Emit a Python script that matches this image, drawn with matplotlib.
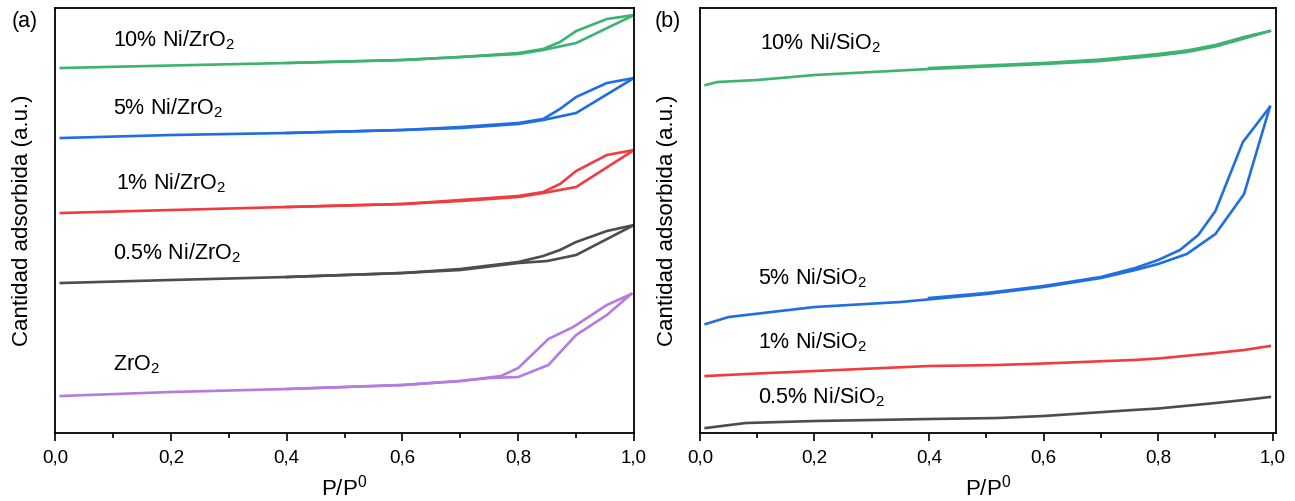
import numpy as np
import matplotlib
matplotlib.use('Agg')
import matplotlib.pyplot as plt
from matplotlib.ticker import MultipleLocator

plt.rcParams['font.family'] = ['Liberation Sans', 'DejaVu Sans']
plt.rcParams['mathtext.default'] = 'regular'

# ---- panel (a): Ni/ZrO2 isotherms (y in arbitrary units) ----
a_ads_p = [0.01, 0.2, 0.4, 0.6, 0.7, 0.8, 0.843, 0.9, 1.0]
a_des_p = [1.0, 0.953, 0.9, 0.872, 0.843, 0.8, 0.7, 0.6, 0.4]

zr10_ads = [365, 367.5, 370, 373, 376, 379, 383, 390, 418]
zr10_des = [418, 414, 402, 391, 384, 380, 376, 373, 370]
zr5_ads = [295, 298, 300, 303, 305, 309, 313, 320, 355]
zr5_des = [355, 350, 336, 324, 314, 310, 306, 303, 300]
zr1_ads = [220, 223, 226, 229, 232, 236, 240, 246, 283]
zr1_des = [283, 278, 262, 249, 241, 237, 233, 229, 226]
zr05_p = [0.01, 0.2, 0.4, 0.6, 0.7, 0.8, 0.85, 0.9, 1.0]
zr05_ads = [150, 153, 156, 160, 163, 170, 172, 178, 208]
zr05_des = [208, 202, 191, 183, 177, 171, 164, 160, 156]

zro2_ads_p = [0.01, 0.2, 0.4, 0.6, 0.7, 0.75, 0.8, 0.852, 0.9, 0.953, 0.995]
zro2_ads = [37, 41, 44, 48, 52, 55, 56, 68, 98, 118, 139]
zro2_des_p = [0.995, 0.953, 0.895, 0.852, 0.8, 0.77, 0.7, 0.6, 0.4]
zro2_des = [139, 128, 106, 94, 65, 57, 52, 48, 44]

# ---- panel (b): Ni/SiO2 isotherms ----
si10_p = [0.01, 0.03, 0.1, 0.2, 0.4, 0.6, 0.7, 0.8, 0.85, 0.9, 0.95, 0.995]
si10_ads = [348, 351, 353, 358, 364, 369, 372, 377.5, 381, 386.5, 394.5, 402]
si10_des_p = [0.995, 0.95, 0.9, 0.85, 0.8, 0.7, 0.6, 0.4]
si10_des = [402, 396, 388, 382.5, 379, 373.5, 370, 365]

si5_ads_p = [0.01, 0.05, 0.2, 0.35, 0.5, 0.6, 0.7, 0.76, 0.8, 0.85, 0.9, 0.95, 0.995]
si5_ads = [109, 116, 126, 131, 139, 146, 155, 163, 169, 179, 199, 239, 326]
si5_des_p = [0.995, 0.948, 0.9, 0.87, 0.838, 0.8, 0.76, 0.7, 0.6, 0.5, 0.4]
si5_des = [326, 291, 222, 198, 183, 173, 165, 156, 147, 140, 135]

si1_p = [0.01, 0.1, 0.2, 0.4, 0.52, 0.6, 0.756, 0.8, 0.9, 0.95, 0.995]
si1_ads = [57, 59.5, 62, 67, 68, 69.5, 73, 74.5, 80, 83, 87]

si05_p = [0.01, 0.08, 0.2, 0.4, 0.52, 0.6, 0.756, 0.8, 0.9, 0.95, 0.995]
si05_ads = [5, 10, 12, 14, 15, 17, 23, 24.5, 30, 33, 36]

xtick_vals = [0.0, 0.2, 0.4, 0.6, 0.8, 1.0]
xtick_labels = ['0,0', '0,2', '0,4', '0,6', '0,8', '1,0']

c_green = '#3cb371'
c_blue = '#1f6fe0'
c_red = '#f03c41'
c_gray = '#4d4d4d'
c_purple = '#b57be0'
lw = 1.9

fig = plt.figure(figsize=(12.95, 5.01), dpi=100)
ax1 = fig.add_axes([0.0425, 0.1357, 0.4471, 0.8483])
ax2 = fig.add_axes([0.5405, 0.1357, 0.4448, 0.8483])

ax1.plot(a_ads_p, zr10_ads, color=c_green, lw=lw)
ax1.plot(a_des_p, zr10_des, color=c_green, lw=lw)
ax1.plot(a_ads_p, zr5_ads, color=c_blue, lw=lw)
ax1.plot(a_des_p, zr5_des, color=c_blue, lw=lw)
ax1.plot(a_ads_p, zr1_ads, color=c_red, lw=lw)
ax1.plot(a_des_p, zr1_des, color=c_red, lw=lw)
ax1.plot(zr05_p, zr05_ads, color=c_gray, lw=lw)
ax1.plot(a_des_p, zr05_des, color=c_gray, lw=lw)
ax1.plot(zro2_ads_p, zro2_ads, color=c_purple, lw=lw)
ax1.plot(zro2_des_p, zro2_des, color=c_purple, lw=lw)

ax2.plot(si10_p, si10_ads, color=c_green, lw=lw)
ax2.plot(si10_des_p, si10_des, color=c_green, lw=lw)
ax2.plot(si5_ads_p, si5_ads, color=c_blue, lw=lw)
ax2.plot(si5_des_p, si5_des, color=c_blue, lw=lw)
ax2.plot(si1_p, si1_ads, color=c_red, lw=lw)
ax2.plot(si05_p, si05_ads, color=c_gray, lw=lw)

fs = 15.5
ax1.text(0.1, 393, '10% Ni/ZrO$_2$', fontsize=fs, va='center')
ax1.text(0.1, 325, '5% Ni/ZrO$_2$', fontsize=fs, va='center')
ax1.text(0.105, 250, '1% Ni/ZrO$_2$', fontsize=fs, va='center')
ax1.text(0.1, 180, '0.5% Ni/ZrO$_2$', fontsize=fs, va='center')
ax1.text(0.1, 68, 'ZrO$_2$', fontsize=fs, va='center')

ax2.text(0.105, 390, '10% Ni/SiO$_2$', fontsize=fs, va='center')
ax2.text(0.102, 155, '5% Ni/SiO$_2$', fontsize=fs, va='center')
ax2.text(0.102, 91, '1% Ni/SiO$_2$', fontsize=fs, va='center')
ax2.text(0.102, 36, '0.5% Ni/SiO$_2$', fontsize=fs, va='center')

fig.text(12 / 1295, 1 - 22 / 501, '(a)', fontsize=15.5, va='center')
fig.text(655 / 1295, 1 - 22 / 501, '(b)', fontsize=15.5, va='center')

for ax, xmax in [(ax1, 1.0), (ax2, 1.0057)]:
    ax.set_xlim(0, xmax)
    ax.set_ylim(0, 425)
    ax.set_xticks(xtick_vals)
    ax.set_xticklabels(xtick_labels)
    ax.xaxis.set_minor_locator(MultipleLocator(0.1))
    ax.set_yticks([])
    ax.tick_params(axis='x', which='major', direction='out', length=6, width=1.2, labelsize=13.5, pad=6)
    ax.tick_params(axis='x', which='minor', direction='out', length=3.5, width=1.2)
    for s in ax.spines.values():
        s.set_linewidth(1.3)
    ax.set_xlabel('P/P$^0$', fontsize=16, labelpad=6)
    ax.set_ylabel('Cantidad adsorbida (a.u.)', fontsize=16, labelpad=16)

fig.savefig('out.png', dpi=100)
